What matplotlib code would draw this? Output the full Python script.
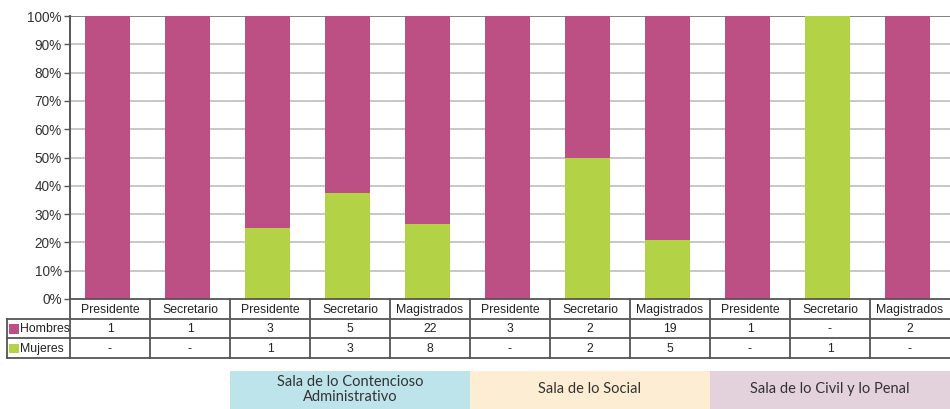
import numpy as np
import matplotlib
matplotlib.use('Agg')
import matplotlib.pyplot as plt

# data
puestos = ['Presidente', 'Secretario', 'Presidente', 'Secretario', 'Magistrados',
           'Presidente', 'Secretario', 'Magistrados', 'Presidente', 'Secretario', 'Magistrados']
hombres = [1, 1, 3, 5, 22, 3, 2, 19, 1, 0, 2]
mujeres = [0, 0, 1, 3, 8, 0, 2, 5, 0, 1, 0]
salas = ['Sala de lo Contencioso\nAdministrativo', 'Sala de lo Social', 'Sala de lo Civil y lo Penal']
sala_inicio = [2, 5, 8]
sala_fin = [4, 7, 10]

c_h = '#BC5085'
c_m = '#B3D246'
c_salas = ['#BDE4EA', '#FDEED3', '#E3D1DC']
c_line = '#555555'

W, H = 950, 409
fig = plt.figure(figsize=(W/100, H/100), dpi=100)
plt.rcParams['font.family'] = ['Liberation Sans', 'DejaVu Sans']

def px(x0, y0, x1, y1):
    return [x0/W, 1-y1/H, (x1-x0)/W, (y1-y0)/H]

h = np.array(hombres, float)
m = np.array(mujeres, float)
tot = h + m
pm = m/tot
ph = h/tot
x = np.arange(len(puestos))

ax = fig.add_axes(px(70, 16, 950, 299))
ax.bar(x - 0.03, pm, width=0.56, color=c_m, zorder=3)
ax.bar(x - 0.03, ph, width=0.56, bottom=pm, color=c_h, zorder=3)
ax.set_xlim(-0.5, 10.5)
ax.set_ylim(0, 1)
ax.set_yticks(np.arange(0, 1.01, 0.1))
ax.set_yticklabels(['%d%%' % v for v in range(0, 101, 10)], fontsize=9.8, color='#333333')
ax.set_xticks([])
for v in np.arange(0.1, 0.95, 0.1):
    ax.axhline(v, color='#BEBEBE', lw=1.2, zorder=1)
ax.axhline(1, color='#808080', lw=1.4, zorder=1)
for s in ['top', 'right', 'bottom']:
    ax.spines[s].set_visible(False)
ax.spines['left'].set_color(c_line)
ax.spines['left'].set_linewidth(1.4)
ax.tick_params(axis='y', length=4, width=1, color=c_line, pad=2)

# data table
tab = fig.add_axes(px(70, 299, 950, 358))
tab.set_xlim(-0.5, 10.5)
tab.set_ylim(0, 3)
tab.axis('off')
xl = -0.5 - 63/80
lk = dict(color=c_line, lw=1.3, clip_on=False)
tab.plot([-0.5, 10.5], [3, 3], **lk)
for yy in [2, 1, 0]:
    tab.plot([xl, 10.5], [yy, yy], **lk)
for k in range(11):
    tab.plot([k-0.5, k-0.5], [0, 3], **lk)
tab.plot([xl, xl], [0, 2], **lk)
fs = 8.8
for i in range(11):
    tab.text(i, 2.45, puestos[i], ha='center', va='center', fontsize=fs, color='#222222')
    tab.text(i, 1.45, str(hombres[i]) if hombres[i] else '-', ha='center', va='center', fontsize=fs, color='#222222')
    tab.text(i, 0.45, str(mujeres[i]) if mujeres[i] else '-', ha='center', va='center', fontsize=fs, color='#222222')
for yy, lab, col in [(1.5, 'Hombres', c_h), (0.5, 'Mujeres', c_m)]:
    tab.bar(xl + 0.03, 0.5, width=0.115, bottom=yy-0.27, color=col, clip_on=False, align='edge')
    tab.text(xl + 0.16, yy - 0.05, lab, ha='left', va='center', fontsize=fs, color='#222222')

# salas
gx = fig.add_axes(px(70, 371, 950, 409))
gx.set_xlim(-0.5, 10.5)
gx.set_ylim(0, 1)
gx.axis('off')
for i in range(len(salas)):
    a, b = sala_inicio[i] - 0.5, sala_fin[i] + 0.5
    gx.bar((a+b)/2, 1, width=b-a, color=c_salas[i])
    gx.text((a+b)/2, 0.52, salas[i], ha='center', va='center', fontsize=10.5,
            family=['Lato', 'DejaVu Sans'], color='#333333', linespacing=1.05)

fig.savefig('out.png', dpi=100)
